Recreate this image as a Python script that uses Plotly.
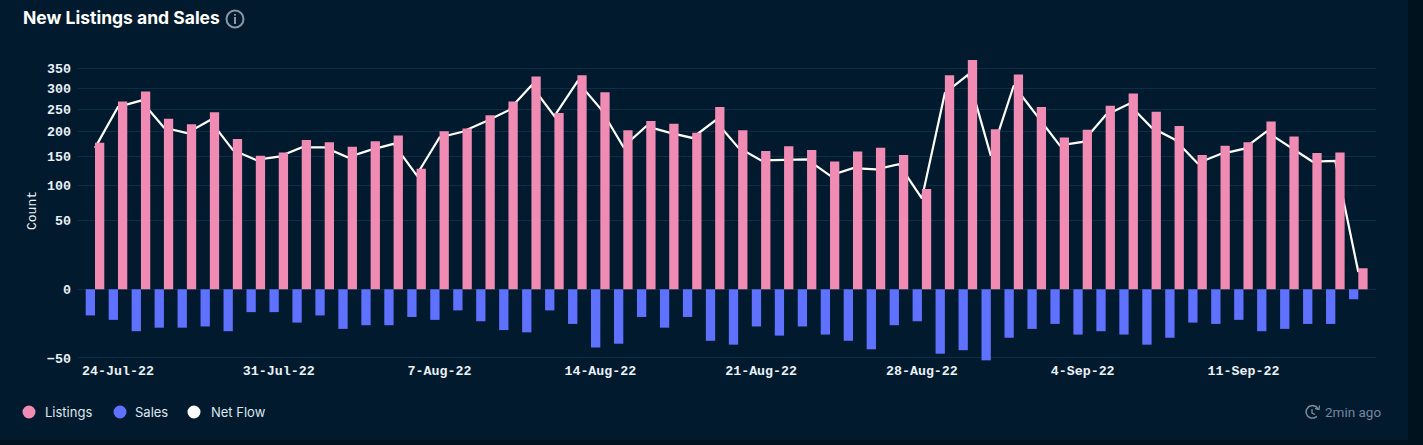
import pandas as pd
import plotly.graph_objects as go

# plot area in window pixels
L, R, T, B = 78, 1376, 60, 361
W, H = 1423, 445

dates = pd.date_range('2022-07-23', periods=56).strftime('%Y-%m-%d').tolist()
listings = [177, 268, 292, 228, 216, 243, 185, 152, 158, 183, 178, 169, 180, 192, 128, 201, 207,
            236, 268, 330, 241, 333, 290, 203, 223, 217, 198, 255, 203, 161, 170, 163, 141, 160,
            167, 153, 94, 333, 375, 205, 335, 255, 188, 204, 258, 287, 244, 212, 153, 171, 178,
            222, 190, 157, 158, 7]
sales = [10, 13, 22, 19, 19, 18, 22, 8, 8, 15, 10, 20, 17, 17, 11, 13, 7, 14, 21, 23, 7, 16, 38,
         34, 11, 19, 11, 31, 35, 18, 26, 18, 25, 31, 40, 17, 14, 45, 41, 53, 28, 20, 16, 25, 22,
         25, 35, 28, 15, 16, 13, 22, 20, 16, 16, 2]
net_flow = [167, 255, 270, 209, 197, 225, 163, 144, 150, 168, 168, 149, 163, 175, 117, 188, 200,
            222, 247, 307, 234, 317, 252, 169, 212, 198, 187, 224, 168, 143, 144, 145, 116, 129,
            127, 136, 80, 288, 334, 152, 307, 235, 172, 179, 236, 262, 209, 184, 138, 155, 165,
            200, 170, 141, 142, 5]

y_ticks = [-50, 0, 50, 100, 150, 200, 250, 300, 350]
y_labels = ['\u221250', '0', '50', '100', '150', '200', '250', '300', '350']
x_ticks = ['2022-07-24', '2022-07-31', '2022-08-07', '2022-08-14', '2022-08-21', '2022-08-28',
           '2022-09-04', '2022-09-11']

PINK, BLUE = '#F08BB3', '#5F72FF'
PANEL, PAGE = '#011A2D', '#01121F'
GRID = '#0D2E47'
MONO = 'Liberation Mono'


def pow_scale(v):
    # the y axis of the original is a signed power scale
    return abs(v) ** 0.6 * (1 if v >= 0 else -1)


def px(x):
    return (x - L) / (R - L)


def py(y):
    return (B - y) / (B - T)


def label(text, x, y, size=13, color='#DFE6EE', family='Inter', weight=400):
    return dict(text=text, x=px(x), y=py(y), xref='paper', yref='paper', xanchor='left',
                yanchor='middle', showarrow=False, font=dict(size=size, color=color, family=family,
                                                              weight=weight))


def circle(cx, cy, r, **kw):
    return dict(type='circle', xref='paper', yref='paper', x0=px(cx - r), x1=px(cx + r),
                y0=py(cy + r), y1=py(cy - r), **kw)


def line_path(points, color, width=1.4):
    d = 'M' + ' L'.join(f'{px(x):.5f},{py(y):.5f}' for x, y in points)
    return dict(type='path', xref='paper', yref='paper', path=d, line=dict(color=color, width=width))


y_range = [(B - 289.3) / -6.56, (289.3 - T) / 6.56]
x_range = ['2022-07-22 06:14', '2022-09-16 18:29']

fig = go.Figure()
# the line sits on the base axes so the bars on the overlaying axis cover it
fig.add_trace(go.Scatter(x=dates, y=[pow_scale(v) for v in net_flow], mode='lines', name='Net Flow',
                         line=dict(color='white', width=2.2)))
fig.add_trace(go.Bar(x=dates, y=[pow_scale(-v) for v in sales], name='Sales', yaxis='y2',
                     marker=dict(color=BLUE, line=dict(width=0))))
fig.add_trace(go.Bar(x=dates, y=[pow_scale(v) for v in listings], name='Listings', yaxis='y2',
                     marker=dict(color=PINK, line=dict(width=0))))

shapes = [
    dict(type='rect', xref='paper', yref='paper', x0=px(0), x1=px(1408), y0=py(440), y1=py(0),
         fillcolor=PANEL, line=dict(width=0), layer='below'),
    circle(235, 19, 8.5, line=dict(color='#8A98A6', width=2)),
    line_path([(235, 17), (235, 24)], '#8A98A6', 2),
    line_path([(235, 14), (235, 15.6)], '#8A98A6', 2),
    # clock icon
    line_path([(1318, 409), (1316, 406.5), (1312.5, 405.5), (1309, 406.5), (1306.5, 409.5), (1306, 412.5),
               (1307.5, 416), (1310.5, 418), (1314, 418), (1317, 416.5)], '#7C8C9A', 1.5),
    line_path([(1315, 408.5), (1319, 409.5), (1319.5, 405.5)], '#7C8C9A', 1.3),
    line_path([(1312, 409), (1312, 413), (1315, 414.5)], '#7C8C9A', 1.3),
]
annotations = [label('2min ago', 1323, 412, size=13.5, color='#7486A0', family='Roboto')]

# legend row with the round markers of the original
for name, color, cx, tx in [('Listings', PINK, 29, 45), ('Sales', BLUE, 120, 135), ('Net Flow', 'white', 194, 211)]:
    shapes.append(circle(cx, 412, 6.5, fillcolor=color, line=dict(width=0)))
    annotations.append(label(name, tx - 2, 412))

fig.update_layout(
    width=W, height=H, margin=dict(l=L, r=W - R, t=T, b=H - B),
    paper_bgcolor=PAGE, plot_bgcolor='rgba(0,0,0,0)', showlegend=False,
    barmode='group', bargap=0.19, bargroupgap=0,
    title=dict(text='New Listings and Sales', x=23 / W, xref='container', xanchor='left', y=1 - 18 / H,
               yref='container', yanchor='middle',
               font=dict(family='Inter', size=17.5, color='white', weight=700)),
    xaxis=dict(type='date', range=x_range, tickvals=x_ticks, tickformat='%-d-%b-%y', showgrid=False,
               zeroline=False, showline=False, ticks='',
               tickfont=dict(family=MONO, size=13.3, color='#EAF1F8', weight=700)),
    yaxis=dict(range=y_range, tickvals=[pow_scale(v) for v in y_ticks], ticktext=y_labels,
               gridcolor=GRID, gridwidth=1, zeroline=False, showline=False, ticks='', ticklabelstandoff=6,
               tickfont=dict(family=MONO, size=13.3, color='#EAF1F8', weight=700),
               title=dict(text='Count', standoff=7, font=dict(family=MONO, size=13, color='#EAF1F8'))),
    yaxis2=dict(range=y_range, overlaying='y', visible=False),
    shapes=shapes,
    annotations=annotations,
)

fig.write_html("out.html", config=dict(displayModeBar=False),
               post_script="document.body.style.margin='0';document.body.style.background='#01121F';")
